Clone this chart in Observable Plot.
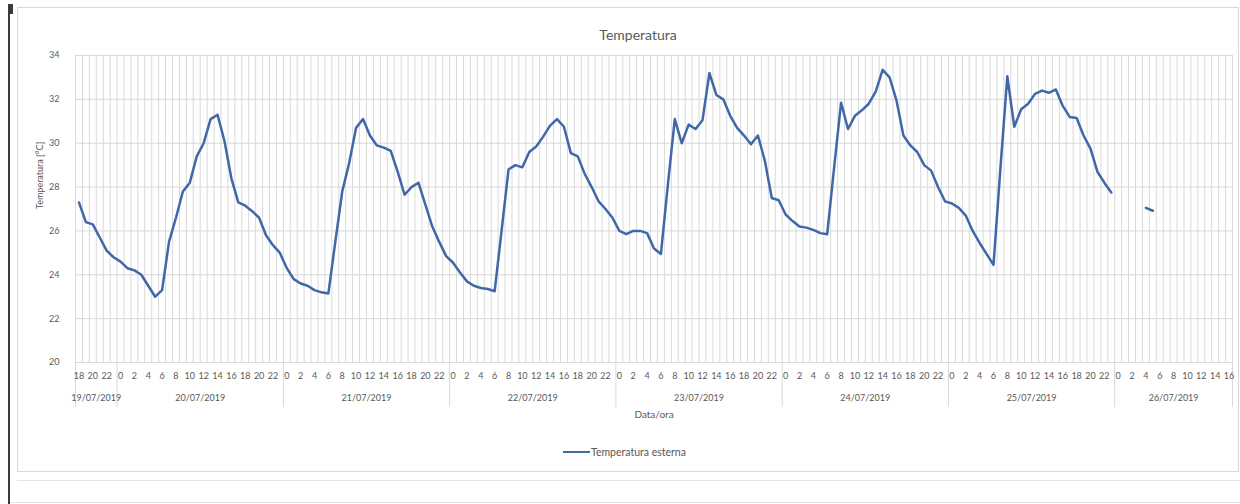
<!DOCTYPE html>
<html><head><meta charset="utf-8">
<script src="https://cdn.jsdelivr.net/npm/d3@7"></script>
<script src="https://cdn.jsdelivr.net/npm/@observablehq/plot@0.6"></script>
<style>
body{margin:0;background:#fff;}
#wrap{position:relative;width:1240px;height:504px;overflow:hidden;font-family:Lato,"Open Sans",sans-serif;background:#fff;}
#box{position:absolute;left:17px;top:7px;width:1220px;height:463px;border:1px solid #d9d9d9;}
#edge{position:absolute;left:8px;top:4px;width:2px;height:500px;background:#3a3a3a;}
#edgeTop{position:absolute;left:8px;top:4px;width:5px;height:10px;background:#3a3a3a;}
#bottomline{position:absolute;left:17px;top:480px;width:1223px;height:1px;background:#e3e3e3}
#bottomline2{position:absolute;left:10px;top:502px;width:1230px;height:1px;background:#e3e3e3}
#chart{position:absolute;left:0;top:0}
#legend{position:absolute;left:563px;top:446px;font-size:10.5px;color:#595959;display:flex;align-items:center;font-family:Lato,"Open Sans",sans-serif;}
.sw{display:inline-block;width:27px;height:2.5px;background:#4068a8;margin-right:1px}
</style>
</head><body>
<div id="wrap">
  <div id="box"></div>
  <div id="edge"></div>
  <div id="edgeTop"></div>
  <div id="bottomline"></div>
  <div id="bottomline2"></div>
  <div id="chart"></div>
  <div id="legend"><span class="sw"></span><span id="legtext"></span></div>
</div>
<script>
// ---- data ----
const title = "Temperatura";
const yTitle = "Temperatura [°C]";
const xTitle = "Data/ora";
const seriesName = "Temperatura esterna";
const dates = ["19/07/2019","20/07/2019","21/07/2019","22/07/2019","23/07/2019","24/07/2019","25/07/2019","26/07/2019"];
const firstHour = [18,0,0,0,0,0,0,0];
const yTicks = [20,22,24,26,28,30,32,34];

const t19 = [27.3,26.4,26.3,25.7,25.1,24.8];
const t20 = [24.6,24.3,24.2,24.0,23.5,23.0,23.3,25.5,26.6,27.8,28.2,29.4,30.0,31.1,31.3,30.1,28.4,27.3,27.15,26.9,26.6,25.8,25.35,25.0];
const t21 = [24.3,23.8,23.6,23.5,23.3,23.2,23.15,25.5,27.8,29.1,30.7,31.1,30.35,29.9,29.8,29.65,28.7,27.65,28.0,28.2,27.2,26.2,25.5,24.85];
const t22 = [24.55,24.1,23.7,23.5,23.4,23.35,23.25,26.0,28.8,29.0,28.9,29.6,29.85,30.3,30.8,31.1,30.75,29.55,29.4,28.6,28.0,27.35,27.0,26.6];
const t23 = [26.0,25.85,26.0,26.0,25.9,25.2,24.95,28.1,31.1,30.0,30.85,30.65,31.05,33.2,32.2,32.0,31.25,30.7,30.35,29.95,30.35,29.2,27.5,27.4];
const t24 = [26.75,26.45,26.2,26.15,26.05,25.9,25.85,28.9,31.85,30.65,31.25,31.5,31.8,32.35,33.35,33.0,31.95,30.35,29.9,29.6,29.0,28.75,28.0,27.35];
const t25 = [27.25,27.05,26.7,26.0,25.45,24.95,24.45,28.85,33.05,30.75,31.55,31.8,32.25,32.4,32.3,32.45,31.7,31.2,31.15,30.35,29.75,28.7,28.2,27.75];
const t26 = [null,null,null,null,27.05,26.92,null,null,null,null,null,null,null,null,null,null,null];

// ---- table built from the arrays ----
const dayTemps = [t19,t20,t21,t22,t23,t24,t25,t26];
const rows = [];
const dayBounds = [0];
const dayMid = [];
let idx = 0;
dayTemps.forEach((arr, d) => {
  const start = idx;
  arr.forEach((v, k) => { rows.push({i: idx, hour: firstHour[d] + k, temp: v}); idx++; });
  dayBounds.push(idx);
  dayMid.push({day: dates[d], mid: (start + idx) / 2});
});
const N = idx;
const hourRows = rows.filter(r => r.hour % 2 === 0);

const grid = "#d9d9d9";
const txt = "#595959";
const blue = "#4068a8";

const chart = Plot.plot({
  width: 1240,
  height: 504,
  marginLeft: 75,
  marginRight: 8,
  marginTop: 55,
  marginBottom: 142,
  style: {fontFamily: "Lato, 'Open Sans', sans-serif", background: "transparent", color: txt},
  x: {domain: [0, N], axis: null},
  y: {domain: [20, 34], axis: null},
  marks: [
    Plot.gridX({ticks: d3.range(0, N + 1), stroke: grid, strokeOpacity: 1}),
    Plot.gridY({ticks: yTicks, stroke: grid, strokeOpacity: 1}),
    Plot.axisY({ticks: yTicks, tickSize: 0, tickPadding: 16, fontSize: 9, fill: txt, label: null}),
    Plot.axisX({ticks: dayBounds, tickSize: 45, tickFormat: () => "", stroke: grid, strokeOpacity: 1, label: null}),
    Plot.text(hourRows, {x: r => r.i + 0.5, text: r => String(r.hour), frameAnchor: "bottom", dy: 16, fontSize: 9, fill: txt}),
    Plot.text(dayMid, {x: "mid", text: "day", frameAnchor: "bottom", dy: 38, fontSize: 9, fill: txt}),
    Plot.text([xTitle], {text: d => d, frameAnchor: "bottom", dy: 55, fontSize: 10, fill: txt}),
    Plot.text([title], {text: d => d, frameAnchor: "top", dy: -25, dx: -16, fontSize: 14, fill: txt}),
    Plot.text([yTitle], {text: d => d, frameAnchor: "left", dx: -35, rotate: -90, fontSize: 9, fill: txt}),
    Plot.line(rows, {x: r => r.i + 0.5, y: "temp", stroke: blue, strokeWidth: 2.5, strokeLinejoin: "round"})
  ]
});
document.getElementById("chart").append(chart);
document.getElementById("legtext").textContent = seriesName;
</script>
</body></html>
